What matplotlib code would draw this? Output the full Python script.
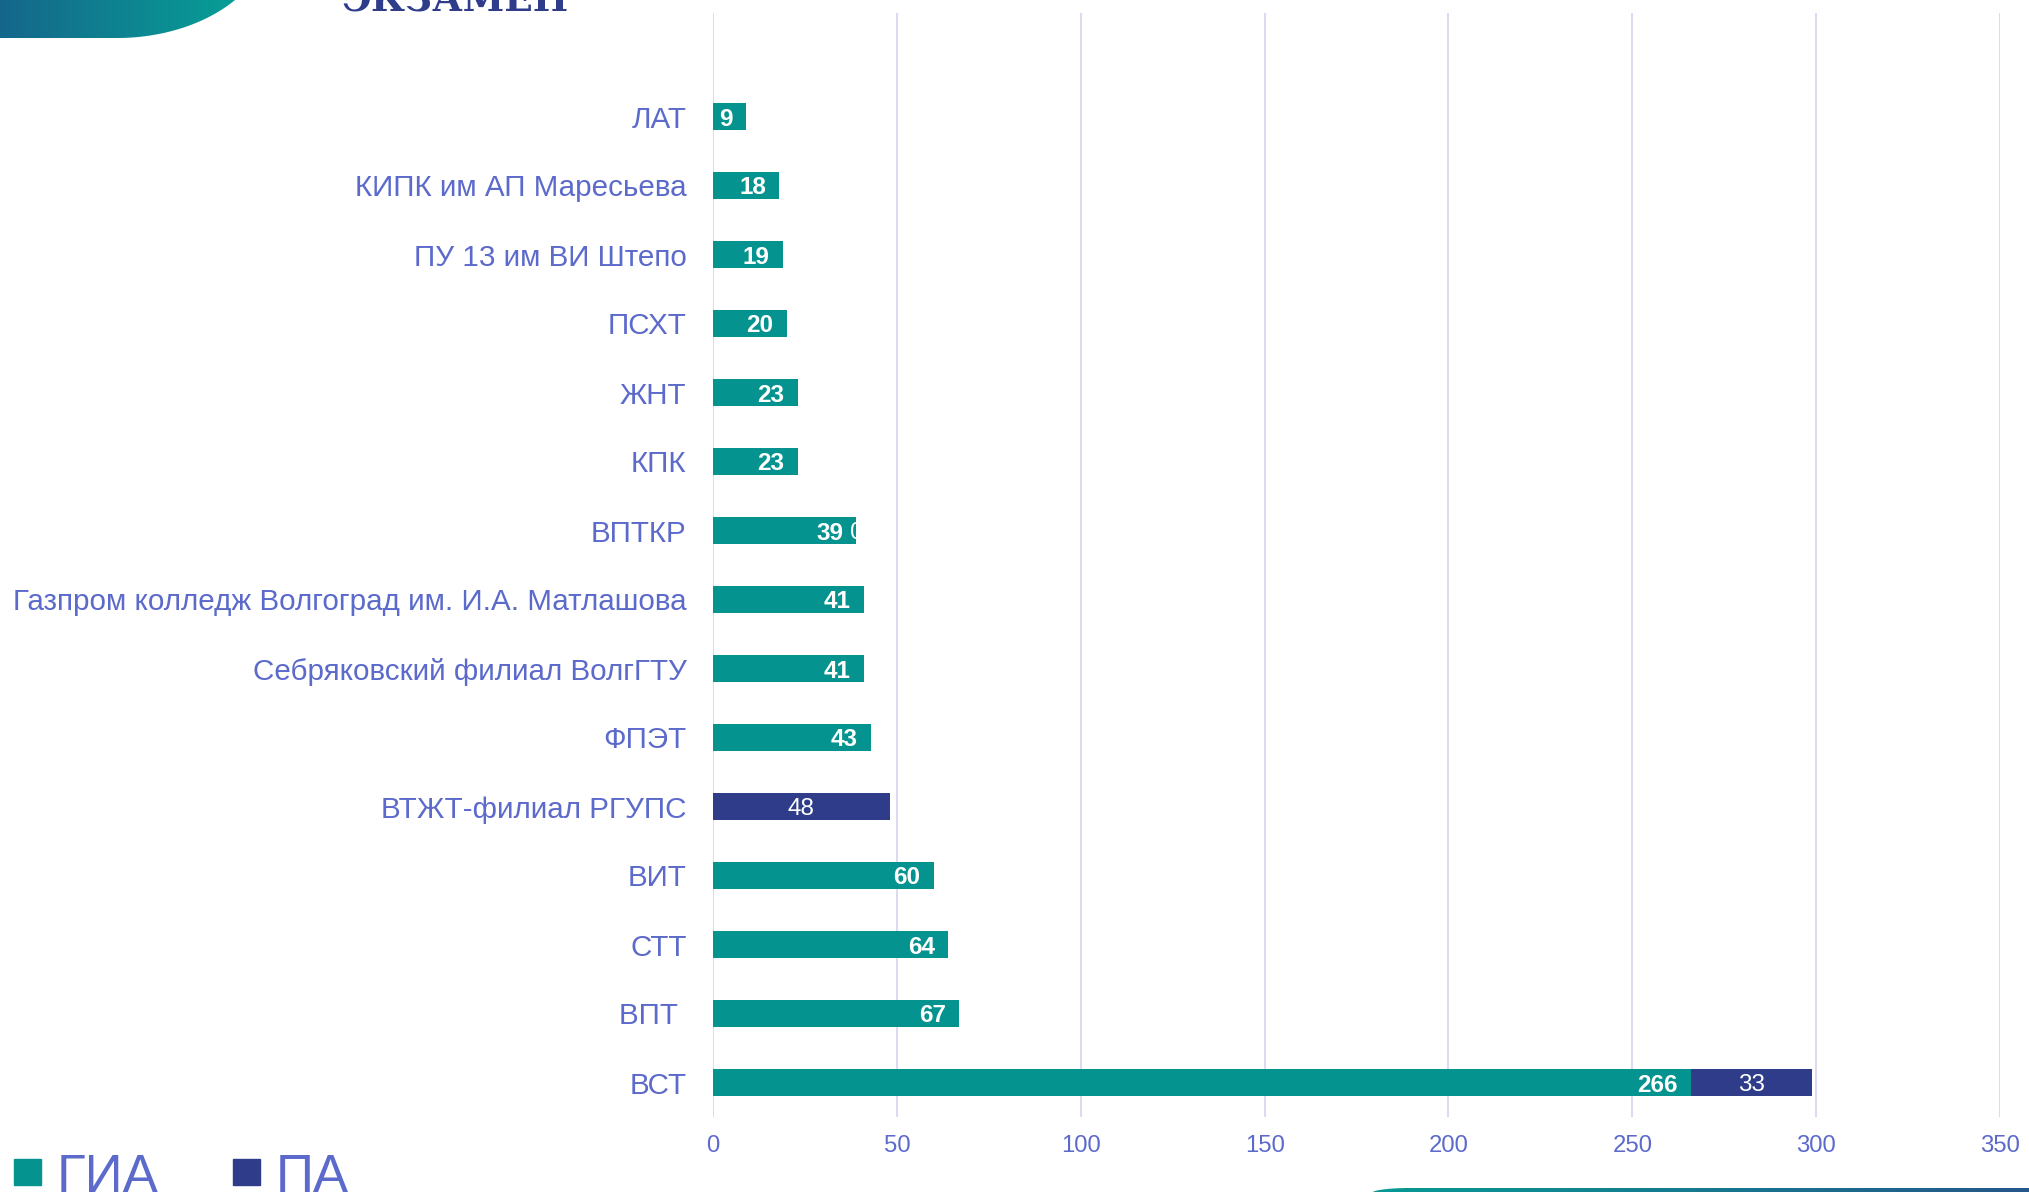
import numpy as np
import matplotlib
matplotlib.use("Agg")
import matplotlib.pyplot as plt
from matplotlib.patches import Rectangle, PathPatch
from matplotlib.path import Path
from matplotlib.colors import LinearSegmentedColormap

#%%
# Data (bottom to top)
colleges = ["ВСТ", "ВПТ ", "СТТ", "ВИТ", "ВТЖТ-филиал РГУПС", "ФПЭТ",
            "Себряковский филиал ВолгГТУ",
            "Газпром колледж Волгоград им. И.А. Матлашова",
            "ВПТКР", "КПК", "ЖНТ", "ПСХТ", "ПУ 13 им ВИ Штепо",
            "КИПК им АП Маресьева", "ЛАТ"]
gia = [266, 67, 64, 60, np.nan, 43, 41, 41, 39, 23, 23, 20, 19, 18, 9]
pa = [33, np.nan, np.nan, np.nan, 48, np.nan, np.nan, np.nan, 0,
      np.nan, np.nan, np.nan, np.nan, np.nan, np.nan]
series_names = ["ГИА", "ПА"]
xticks = [0, 50, 100, 150, 200, 250, 300, 350]

teal = "#05938F"
navy = "#2E3C8A"
txt = "#5B6ACB"
W, H = 2029, 1192

plt.rcParams['font.family'] = ['Liberation Sans', 'DejaVu Sans']

fig = plt.figure(figsize=(W / 100, H / 100), dpi=100)

#%%
# Decorations (pixel coordinates)
deco = fig.add_axes([0, 0, 1, 1], zorder=-1)
deco.set_xlim(0, W)
deco.set_ylim(H, 0)
deco.axis("off")


def gradient_shape(verts, c1, c2, x0, x1):
    patch = PathPatch(Path(verts), facecolor="none", edgecolor="none")
    deco.add_patch(patch)
    cmap = LinearSegmentedColormap.from_list("g", [c1, c2])
    im = deco.imshow(np.linspace(0, 1, 256).reshape(1, -1), cmap=cmap,
                     extent=(x0, x1, H + 10, -10), aspect="auto")
    im.set_clip_path(patch)


cx, cy, rx, ry = 117, -70, 155, 108
t = np.linspace(np.arcsin(60 / ry), np.pi / 2, 60)
arc = np.column_stack([cx + rx * np.cos(t), cy + ry * np.sin(t)])
tl = np.vstack([[[0, -10]], arc, [[0, cy + ry]], [[0, -10]]])
gradient_shape(tl, "#15678B", "#07A096", 0, 245)

t2 = np.linspace(np.pi, 1.5 * np.pi, 40)
arc2 = np.column_stack([1410 + 38 * np.cos(t2), 1193 + 5 * np.sin(t2)])
br = np.vstack([[[1372, 1200]], arc2, [[W + 5, 1188]], [[W + 5, 1200]], [[1372, 1200]]])
gradient_shape(br, "#079A94", "#25578A", 1372, W)

fig.text(341 / W, 1 - 11 / H, "ЭКЗАМЕН", family="DejaVu Serif",
         fontweight="bold", fontsize=27, color=navy, va="baseline", ha="left")

#%%
ax = fig.add_axes([713 / W, 1 - 1117 / H, 1287 / W, 1104 / H])
y = np.arange(len(colleges))
gia_v = np.nan_to_num(np.array(gia, dtype=float))
pa_v = np.nan_to_num(np.array(pa, dtype=float))

b1 = ax.barh(y, gia_v, height=0.4, color=teal, zorder=2)
b2 = ax.barh(y, pa_v, left=gia_v, height=0.4, color=navy, zorder=2)

for i in range(len(colleges)):
    if not np.isnan(gia[i]):
        ax.annotate(f"{gia[i]:g}", (gia[i], i), xytext=(-9.5, 0),
                    textcoords="offset points", ha="right",
                    va="center_baseline", color="white", fontweight="bold",
                    fontsize=17.5, zorder=3)
    if not np.isnan(pa[i]):
        t = ax.text(gia_v[i] + pa[i] / 2, i, f"{pa[i]:g}", ha="center",
                    va="center_baseline", color="white", fontsize=17.5,
                    zorder=3)
        if pa[i] == 0:
            t.set_clip_path(b1[i])

ax.set_xlim(0, 350)
ax.set_ylim(-0.5, len(colleges) + 0.5)
ax.set_xticks(xticks)
ax.set_yticks(y)
ax.set_yticklabels(colleges)
ax.tick_params(axis="y", length=0, pad=19, labelsize=21.3, labelcolor=txt)
ax.tick_params(axis="x", length=0, pad=13, labelsize=17.2, labelcolor=txt)
for s in ax.spines.values():
    s.set_visible(False)
ax.xaxis.grid(True, color="#D9DBF1", linewidth=1.4)
ax.set_axisbelow(True)

#%%
# Legend
for x0, c, name, tx in [(14, teal, series_names[0], 57), (233, navy, series_names[1], 276)]:
    fig.patches.append(Rectangle((x0 / W, 1 - 1185 / H), 27 / W, 26 / H,
                                 transform=fig.transFigure, color=c))
    fig.text(tx / W, 1 - 1192 / H, name, fontsize=38, color=txt,
             va="baseline", ha="left")

plt.savefig("out.png", dpi=100)
